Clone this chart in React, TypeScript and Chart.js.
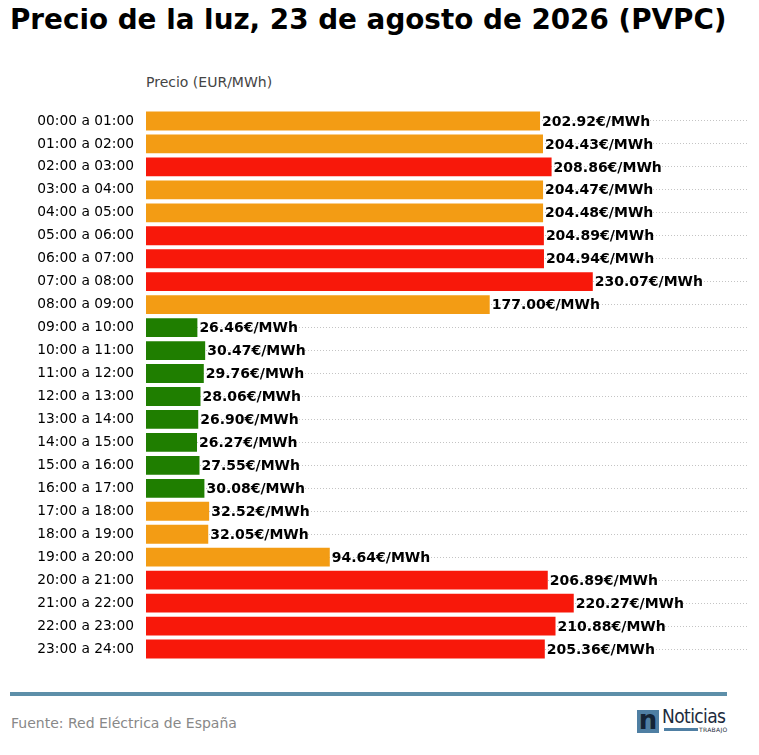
import { useEffect, useRef } from "react";
import Chart from "chart.js/auto";

const hours = [
  "00:00 a 01:00", "01:00 a 02:00", "02:00 a 03:00", "03:00 a 04:00",
  "04:00 a 05:00", "05:00 a 06:00", "06:00 a 07:00", "07:00 a 08:00",
  "08:00 a 09:00", "09:00 a 10:00", "10:00 a 11:00", "11:00 a 12:00",
  "12:00 a 13:00", "13:00 a 14:00", "14:00 a 15:00", "15:00 a 16:00",
  "16:00 a 17:00", "17:00 a 18:00", "18:00 a 19:00", "19:00 a 20:00",
  "20:00 a 21:00", "21:00 a 22:00", "22:00 a 23:00", "23:00 a 24:00",
];

const prices = [
  202.92, 204.43, 208.86, 204.47, 204.48, 204.89, 204.94, 230.07,
  177.0, 26.46, 30.47, 29.76, 28.06, 26.9, 26.27, 27.55,
  30.08, 32.52, 32.05, 94.64, 206.89, 220.27, 210.88, 205.36,
];

// price band of each hour
const bands = [
  "medio", "medio", "alto", "medio", "medio", "alto", "alto", "alto",
  "medio", "bajo", "bajo", "bajo", "bajo", "bajo", "bajo", "bajo",
  "bajo", "medio", "medio", "medio", "alto", "alto", "alto", "alto",
];

const bandColor: Record<string, string> = {
  bajo: "#1f7e00",
  medio: "#f39c14",
  alto: "#f8180a",
};

const FONT = "'DejaVu Sans', sans-serif";

const valueLabels = {
  id: "valueLabels",
  afterDatasetsDraw(chart: any) {
    const ctx = chart.ctx;
    const meta = chart.getDatasetMeta(0);
    ctx.save();
    ctx.font = `bold 14px ${FONT}`;
    ctx.fillStyle = "#000";
    ctx.textAlign = "left";
    ctx.textBaseline = "middle";
    meta.data.forEach((bar: any, i: number) => {
      ctx.fillText(prices[i].toFixed(2) + "€/MWh", bar.x + 2, bar.y + 1);
    });
    ctx.restore();
  },
};

export default function App() {
  const canvasRef = useRef<HTMLCanvasElement | null>(null);
  const chartInstance = useRef<Chart | null>(null);

  useEffect(() => {
    if (!canvasRef.current) return;
    if (chartInstance.current) chartInstance.current.destroy();

    chartInstance.current = new Chart(canvasRef.current, {
      type: "bar",
      data: {
        labels: hours,
        datasets: [
          {
            data: prices,
            backgroundColor: bands.map((b) => bandColor[b]),
            barPercentage: 0.82,
            categoryPercentage: 1,
          },
        ],
      },
      options: {
        indexAxis: "y",
        responsive: false,
        animation: false,
        layout: { padding: { top: 9.5, bottom: 9.5, right: 11, left: 0 } },
        plugins: {
          legend: { display: false },
          tooltip: { enabled: false },
        },
        scales: {
          x: {
            display: false,
            min: 0,
            max: 310,
          },
          y: {
            afterFit: (s: any) => {
              s.width = 146;
              s.paddingTop = 0;
              s.paddingBottom = 0;
            },
            border: { display: false },
            grid: {
              offset: false,
              color: "#c4c4c4",
              lineWidth: 1,
              drawTicks: true,
              tickLength: 12,
              tickColor: "rgba(0,0,0,0)",
            },
            ticks: {
              color: "#000",
              padding: 0,
              font: { family: FONT, size: 13.8 },
            },
          },
        },
      },
      plugins: [
        valueLabels,
        {
          id: "dashGrid",
          beforeDraw(chart: any) {
            chart.scales.y.options.grid.borderDash = [1, 2];
            chart.scales.y.options.border.dash = [1, 2];
          },
        },
      ],
    } as any);

    return () => {
      chartInstance.current?.destroy();
    };
  }, []);

  return (
    <div
      style={{
        position: "relative",
        width: 759,
        height: 755,
        margin: -8,
        fontFamily: FONT,
        background: "#fff",
      }}
    >
      <div
        style={{
          position: "absolute",
          left: 10,
          top: 3,
          fontSize: 27.8,
          fontWeight: "bold",
          color: "#000",
          whiteSpace: "nowrap",
        }}
      >
        Precio de la luz, 23 de agosto de 2026 (PVPC)
      </div>
      <div
        style={{
          position: "absolute",
          left: 146,
          top: 74,
          fontSize: 14,
          color: "#444",
        }}
      >
        Precio (EUR/MWh)
      </div>
      <canvas
        ref={canvasRef}
        width={759}
        height={570}
        style={{ position: "absolute", left: 0, top: 100, width: 759, height: 570 }}
      />
      <div
        style={{
          position: "absolute",
          left: 10,
          top: 692,
          width: 717,
          height: 4,
          background: "#5d8fa9",
        }}
      />
      <div
        style={{
          position: "absolute",
          left: 11,
          top: 715,
          fontSize: 14,
          color: "#888",
        }}
      >
        Fuente: Red Eléctrica de España
      </div>
      <div
        style={{
          position: "absolute",
          left: 637,
          top: 710,
          width: 22,
          height: 23,
          background: "#4f7fa3",
          color: "#142436",
          fontSize: 26,
          fontWeight: "bold",
          lineHeight: "20px",
          textAlign: "center",
          overflow: "hidden",
        }}
      >
        n
      </div>
      <div
        style={{
          position: "absolute",
          left: 662,
          top: 705,
          fontSize: 19,
          color: "#1c2b3d",
          fontFamily: "'DejaVu Sans Condensed', 'DejaVu Sans', sans-serif",
          letterSpacing: -0.6,
        }}
      >
        Noticias
      </div>
      <div
        style={{
          position: "absolute",
          left: 664,
          top: 728,
          width: 34,
          height: 3,
          background: "#4f7fa3",
        }}
      />
      <div
        style={{
          position: "absolute",
          left: 699,
          top: 726,
          fontSize: 6,
          color: "#1c2b3d",
          letterSpacing: 0.3,
        }}
      >
        TRABAJO
      </div>
    </div>
  );
}
